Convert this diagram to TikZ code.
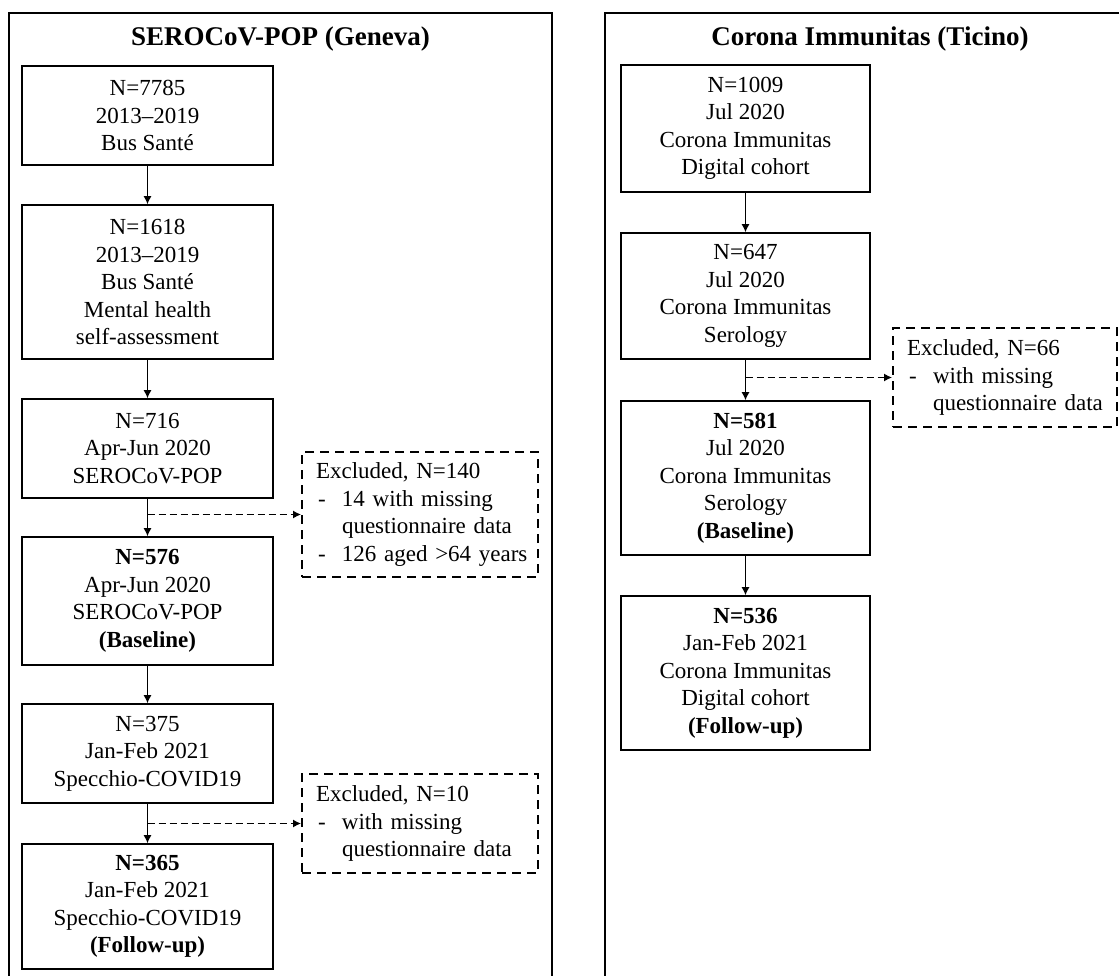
\documentclass[tikz,border=0pt]{standalone}
\usepackage{fontspec}
\setmainfont{Liberation Serif}
\usetikzlibrary{arrows.meta}
\newcommand\exitem[1]{\mbox{\makebox[26pt][l]{\hspace{2pt}-}#1}}
\newcommand\exind[1]{\mbox{\hspace{26pt}#1}}
\begin{document}
\begin{tikzpicture}[x=1pt,y=-1pt,
  panel/.style={line width=1.8pt},
  ttl/.style={font=\fontsize{27}{32}\selectfont\bfseries, inner sep=0pt},
  box/.style={draw, line width=1.6pt, inner sep=0pt, align=center, font=\fontsize{23}{27.5}\selectfont},
  lbox/.style={box, minimum width=251pt},
  rbox/.style={box, minimum width=249pt},
  exbox/.style={draw, line width=2pt, dash pattern=on 9pt off 6pt, inner xsep=14pt, inner ysep=0pt, align=left, font=\fontsize{23}{27.5}\selectfont},
  flow/.style={line width=1.2pt, -{Latex[length=8pt,width=8pt]}},
  exflow/.style={line width=1.2pt, dash pattern=on 7pt off 4pt, -{Latex[length=8pt,width=8pt]}}
]
\useasboundingbox (0,0) rectangle (1119,976);
\clip (0,0) rectangle (1119,976);

% panels
\draw[panel] (9,995) -- (9,13) -- (552,13) -- (552,995);
\draw[panel] (605,995) -- (605,13) -- (1135,13) -- (1135,995);
\node[ttl] (tl) at (280.5,39) {SEROCoV-POP (Geneva)};
\node[ttl] (tr) at (870,39) {Corona Immunitas (Ticino)};

% left column
\node[lbox, minimum height=99pt] (b1) at (147.5,115.5) {N=7785\\2013–2019\\Bus Santé};
\node[lbox, minimum height=154pt] (b2) at (147.5,282) {N=1618\\2013–2019\\Bus Santé\\Mental health\\self-assessment};
\node[lbox, minimum height=99pt] (b3) at (147.5,448.5) {N=716\\Apr-Jun 2020\\SEROCoV-POP};
\node[lbox, minimum height=128pt] (b4) at (147.5,601) {\textbf{N=576}\\Apr-Jun 2020\\SEROCoV-POP\\\textbf{(Baseline)}};
\node[lbox, minimum height=99pt] (b5) at (147.5,753.5) {N=375\\Jan-Feb 2021\\Specchio-COVID19};
\node[lbox, minimum height=125pt] (b6) at (147.5,906.5) {\textbf{N=365}\\Jan-Feb 2021\\Specchio-COVID19\\\textbf{(Follow-up)}};

\node[exbox, text width=208pt, minimum height=125pt] (e1) at (420,514.5)
  {Excluded, N=140\\\exitem{14 with missing}\\\exind{questionnaire data}\\\exitem{126 aged >64 years}};
\node[exbox, text width=208pt, minimum height=99pt] (e2) at (420,823.5)
  {Excluded, N=10\\\exitem{with missing}\\\exind{questionnaire data}};

% right column
\node[rbox, minimum height=127pt] (r1) at (745.5,128.5) {N=1009\\Jul 2020\\Corona Immunitas\\Digital cohort};
\node[rbox, minimum height=126pt] (r2) at (745.5,296) {N=647\\Jul 2020\\Corona Immunitas\\Serology};
\node[rbox, minimum height=154pt] (r3) at (745.5,478) {\textbf{N=581}\\Jul 2020\\Corona Immunitas\\Serology\\\textbf{(Baseline)}};
\node[rbox, minimum height=154pt] (r4) at (745.5,673) {\textbf{N=536}\\Jan-Feb 2021\\Corona Immunitas\\Digital cohort\\\textbf{(Follow-up)}};

\node[exbox, text width=196pt, minimum height=99pt] (e3) at (1005,377.5)
  {Excluded, N=66\\\exitem{with missing}\\\exind{questionnaire data}};

% connectors
\draw[flow] (b1) -- (b2);
\draw[flow] (b2) -- (b3);
\draw[flow] (b3) -- (b4);
\draw[flow] (b4) -- (b5);
\draw[flow] (b5) -- (b6);
\draw[flow] (r1) -- (r2);
\draw[flow] (r2) -- (r3);
\draw[flow] (r3) -- (r4);

\coordinate (d1) at (b3.south |- e1.west);
\coordinate (d2) at (b5.south |- e2.west);
\coordinate (d3) at (r2.south |- e3.west);
\draw[exflow] (d1) -- (e1.west);
\draw[exflow] (d2) -- (e2.west);
\draw[exflow] (d3) -- (e3.west);
\end{tikzpicture}
\end{document}
